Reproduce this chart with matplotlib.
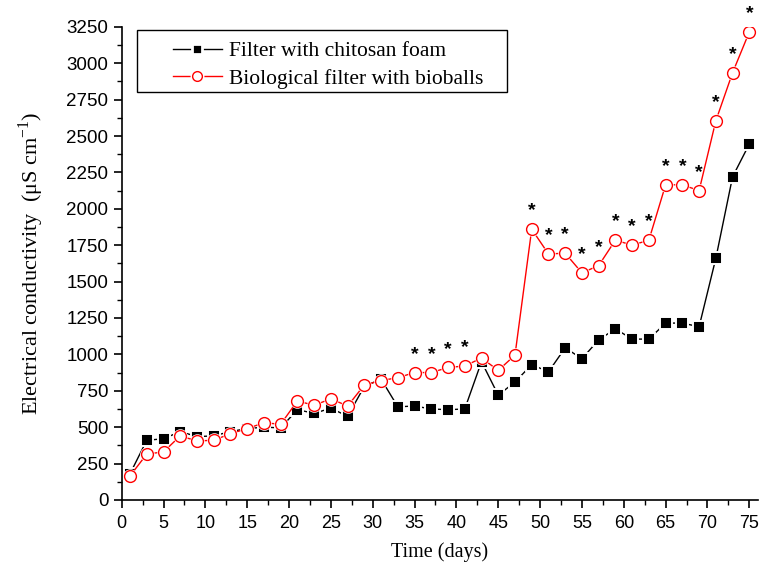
import matplotlib
matplotlib.use("Agg")
import matplotlib.pyplot as plt
from matplotlib.lines import Line2D
from matplotlib.legend_handler import HandlerTuple
from matplotlib.patches import Rectangle
from matplotlib.ticker import MultipleLocator

# sampling days (every second day)
days = list(range(1, 76, 2))

chitosan = [180, 410, 420, 470, 435, 440, 470, 490, 500, 495,
            620, 595, 630, 575, 780, 830, 640, 645, 625, 620,
            625, 950, 720, 810, 930, 880, 1045, 970, 1100, 1175,
            1105, 1105, 1215, 1215, 1190, 1660, 2220, 2445]

bioballs = [165, 315, 330, 440, 405, 410, 455, 490, 530, 520,
            680, 650, 695, 645, 790, 820, 840, 875, 875, 910,
            920, 975, 890, 995, 1860, 1690, 1695, 1560, 1610, 1785,
            1750, 1785, 2165, 2165, 2125, 2605, 2935, 3215]

# days where the difference is significant
signif_days = [35, 37, 39, 41, 49, 51, 53, 55, 57, 59, 61, 63,
               65, 67, 69, 71, 73, 75]

serif = "Liberation Serif"
sans = "Liberation Sans"

fig = plt.figure(figsize=(7.7, 5.72), dpi=100)
ax = fig.add_axes([0.158, 0.126, 0.826, 0.827])

# white halos under the markers so the lines stop short of them
ax.plot(days, chitosan, color="black", lw=1.0, marker="s", ms=8.5,
        mfc="black", mec="white", mew=1.4, zorder=3)
ax.plot(days, bioballs, color="red", lw=1.0, marker="o", ms=10.5,
        mfc="white", mec="white", mew=0, zorder=4)
ax.plot(days, bioballs, color="none", marker="o", ms=8.5,
        mfc="white", mec="red", mew=1.0, zorder=5)

for d in signif_days:
    v = bioballs[days.index(d)]
    ax.annotate("*", (d, v), xytext=(0, 7), textcoords="offset points",
                ha="center", va="bottom", fontsize=14, family=sans,
                fontweight="bold", zorder=6)

ax.set_xlim(0, 76)
ax.set_ylim(0, 3250)
ax.xaxis.set_major_locator(MultipleLocator(5))
ax.xaxis.set_minor_locator(MultipleLocator(2.5))
ax.yaxis.set_major_locator(MultipleLocator(250))
ax.yaxis.set_minor_locator(MultipleLocator(125))

ax.spines["top"].set_visible(False)
ax.spines["right"].set_visible(False)
for s in ("left", "bottom"):
    ax.spines[s].set_linewidth(1.2)

ax.tick_params(which="major", direction="out", length=6, width=1.2,
               labelsize=13.5)
ax.tick_params(axis="x", which="major", pad=5, labelsize=13)
ax.tick_params(which="minor", direction="out", length=3.5, width=1.0)
for lab in ax.get_xticklabels() + ax.get_yticklabels():
    lab.set_family(sans)

ax.set_xlabel("Time (days)", family=serif, fontsize=14.5, labelpad=7)
ax.set_ylabel(r"Electrical conductivity  ($\mathregular{\mu}$S cm$^{\mathregular{-1}}$)",
              family=serif, fontsize=16, labelpad=15)

# legend entries: line with a haloed marker in the middle
h_black = Line2D([], [], color="black", lw=1.0, marker="s", ms=7,
                 mfc="black", mec="white", mew=2.0)
h_red_halo = Line2D([], [], color="red", lw=1.0, marker="o", ms=10,
                    mfc="white", mec="white", mew=0)
h_red = Line2D([], [], color="none", marker="o", ms=7,
               mfc="white", mec="red", mew=1.0)

# legend box drawn separately so the entries can sit indented in it
ax.add_patch(Rectangle((0.0236, 0.8626), 0.5817, 0.1311,
                       transform=ax.transAxes, fill=False, lw=1.0,
                       edgecolor="black", clip_on=False, zorder=7))
leg = ax.legend([h_black, (h_red_halo, h_red)],
                ["Filter with chitosan foam", "Biological filter with bioballs"],
                handler_map={tuple: HandlerTuple(ndivide=1, pad=0)},
                loc="upper left", bbox_to_anchor=(0.080, 0.970),
                prop={"family": serif, "size": 15.5}, frameon=False,
                handlelength=2.3, borderpad=0, labelspacing=0.35,
                borderaxespad=0, handletextpad=0.3)

fig.savefig("out.png", dpi=100)
